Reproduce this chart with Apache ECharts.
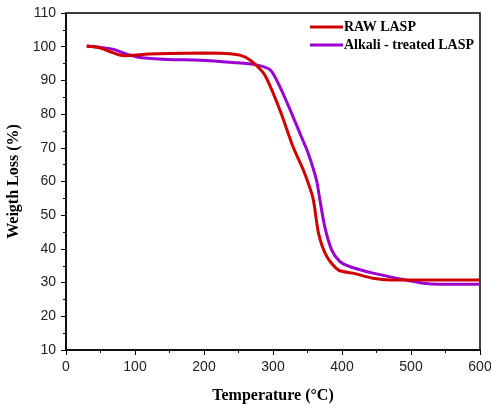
<!DOCTYPE html>
<html><head><meta charset="utf-8">
<script src="https://cdn.jsdelivr.net/npm/echarts@6/dist/echarts.min.js"></script>
<style>html,body{margin:0;padding:0;background:#fff}#c{width:491px;height:407px}</style>
</head><body><div id="c"></div>
<script>
var seriesNames = ['RAW LASP', 'Alkali - treated LASP'];
var rawTemp = [30, 50, 64, 75, 85, 100, 120, 150, 200, 230, 252, 267, 288, 310, 329, 344, 358, 366, 378, 395, 416, 445, 470, 494, 550, 600];
var rawWeight = [100.2, 99.6, 98.5, 97.7, 97.3, 97.5, 97.8, 98.0, 98.1, 98.0, 97.5, 96.0, 91.6, 81.2, 70.3, 63.4, 55.0, 44.6, 37.7, 33.7, 32.8, 31.3, 30.8, 30.8, 30.8, 30.8];
var alkTemp = [30, 50, 69, 88, 107, 146, 194, 242, 276, 296, 310, 325, 339, 351, 363, 368, 375, 385, 397, 412, 445, 484, 518, 542, 600];
var alkWeight = [100.1, 99.8, 99.2, 97.8, 96.8, 96.2, 96.0, 95.3, 94.6, 93.1, 88.1, 81.2, 74.3, 68.4, 60.4, 54.5, 46.6, 39.7, 36.2, 34.7, 32.8, 31.1, 29.8, 29.5, 29.5];
var xTicks = [0, 600, 100];
var yTicks = [10, 110, 10];

function pairs(xs, ys){ return xs.map(function(x,i){ return [x, ys[i]]; }); }

var chart = echarts.init(document.getElementById('c'));
var axisCommon = {
  axisLine: {show: true, lineStyle: {color: '#000', width: 1.5}},
  axisTick: {show: true, inside: false, length: 5, lineStyle: {color: '#000', width: 1}},
  minorTick: {show: true, splitNumber: 2, length: 3, lineStyle: {color: '#000', width: 1}},
  splitLine: {show: false},
  axisLabel: {color: '#222', fontFamily: 'Liberation Sans', fontSize: 14},
  nameLocation: 'middle',
  nameTextStyle: {color: '#000', fontFamily: 'Liberation Serif', fontWeight: 'bold', fontSize: 16}
};
chart.setOption({
  animation: false,
  backgroundColor: '#fff',
  grid: {left: 66, right: 11, top: 13, bottom: 57, show: true, borderColor: '#000', borderWidth: 1.5, backgroundColor: 'transparent', outerBoundsMode: 'none', containLabel: false},
  legend: {
    orient: 'vertical', left: 305, top: 15, itemWidth: 33, itemHeight: 3, itemGap: 4, icon: 'rect',
    textStyle: {color: '#000', fontFamily: 'Liberation Serif', fontWeight: 'bold', fontSize: 14, padding: [0,0,0,-4]},
    data: seriesNames
  },
  xAxis: Object.assign({}, axisCommon, {
    type: 'value', min: xTicks[0], max: xTicks[1], interval: xTicks[2],
    name: 'Temperature (°C)', nameGap: 38,
    axisLabel: Object.assign({}, axisCommon.axisLabel, {margin: 10})
  }),
  yAxis: Object.assign({}, axisCommon, {
    type: 'value', min: yTicks[0], max: yTicks[1], interval: yTicks[2],
    name: 'Weigth Loss (%)', nameGap: 40,
    axisLabel: Object.assign({}, axisCommon.axisLabel, {margin: 10})
  }),
  series: [
    {name: seriesNames[0], type: 'line', data: pairs(rawTemp, rawWeight), smooth: 0.25, showSymbol: false, symbol: 'none', lineStyle: {color: '#d00000', width: 3}, itemStyle: {color: '#d00000'}, z: 3},
    {name: seriesNames[1], type: 'line', data: pairs(alkTemp, alkWeight), smooth: 0.25, showSymbol: false, symbol: 'none', lineStyle: {color: '#9a00d0', width: 3}, itemStyle: {color: '#9a00d0'}, z: 2}
  ]
});
</script></body></html>
